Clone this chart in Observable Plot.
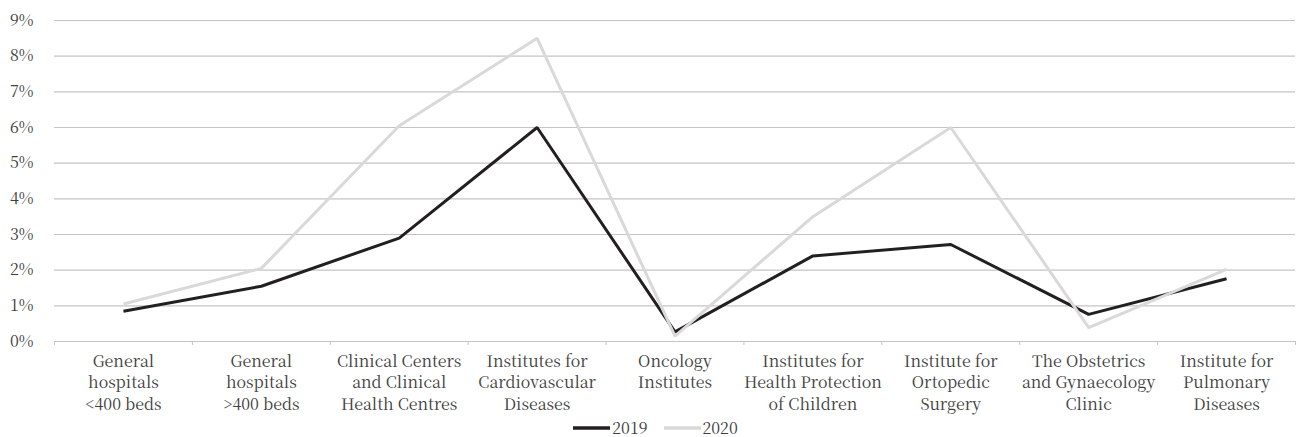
<!DOCTYPE html>
<html>
<head>
<meta charset="utf-8">
<script src="https://cdn.jsdelivr.net/npm/d3@7"></script>
<script src="https://cdn.jsdelivr.net/npm/@observablehq/plot@0.6"></script>
<style>
  html, body { margin: 0; padding: 0; background: #fff; }
  body { width: 1303px; height: 437px; overflow: hidden; font-family: 'Noto Serif CJK SC', 'Liberation Serif', serif; }
  #legend { display: flex; justify-content: center; align-items: center; height: 19px; line-height: 19px; padding-left: 8px; font-size: 16px; color: #404040; }
  #legend .item { display: flex; align-items: center; margin: 0 8px; }
  #legend svg { margin-right: 2px; }
</style>
</head>
<body>
<div id="chart"></div>
<div id="legend"></div>
<script>
const categories = [
  "General hospitals <400 beds",
  "General hospitals >400 beds",
  "Clinical Centers and Clinical Health Centres",
  "Institutes for Cardiovascular Diseases",
  "Oncology Institutes",
  "Institutes for Health Protection of Children",
  "Institute for Ortopedic Surgery",
  "The Obstetrics and Gynaecology Clinic",
  "Institute for Pulmonary Diseases"
];
const categoryLabels = [
  "General\nhospitals\n<400 beds",
  "General\nhospitals\n>400 beds",
  "Clinical Centers\nand Clinical\nHealth Centres",
  "Institutes for\nCardiovascular\nDiseases",
  "Oncology\nInstitutes",
  "Institutes for\nHealth Protection\nof Children",
  "Institute for\nOrtopedic\nSurgery",
  "The Obstetrics\nand Gynaecology\nClinic",
  "Institute for\nPulmonary\nDiseases"
];
const seriesNames = ["2019", "2020"];
const values2019 = [0.85, 1.55, 2.9, 6.0, 0.27, 2.4, 2.72, 0.76, 1.76];
const values2020 = [1.05, 2.05, 6.05, 8.5, 0.15, 3.5, 6.0, 0.39, 2.02];
const seriesColors = ["#231f20", "#d9d9d9"];
const yTicks = [0, 1, 2, 3, 4, 5, 6, 7, 8, 9];

const seriesValues = [values2019, values2020];
const data = seriesNames.flatMap((s, k) =>
  categories.map((c, i) => ({series: s, category: c, index: i + 0.5, value: seriesValues[k][i]}))
);
const centers = categories.map((_, i) => i + 0.5);
const boundaries = d3.range(0, categories.length + 1);
const fontStack = "'Noto Serif CJK SC', 'Liberation Serif', serif";

const chart = Plot.plot({
  width: 1303,
  height: 418,
  marginLeft: 54,
  marginRight: 8,
  marginTop: 20,
  marginBottom: 77,
  style: {fontFamily: fontStack, fontSize: "16px", color: "#404040", background: "#fff", overflow: "visible"},
  x: {domain: [0, categories.length]},
  y: {domain: [0, 9]},
  color: {domain: seriesNames, range: seriesColors},
  marks: [
    Plot.gridY({ticks: yTicks, stroke: "#c4c4c4", strokeOpacity: 1, strokeWidth: 1.2}),
    Plot.axisY({ticks: yTicks, tickSize: 0, tickPadding: 21, tickFormat: d => d + "%", fontSize: 16, fill: "#404040", label: null}),
    Plot.axisX({ticks: boundaries, tickSize: 4, tickFormat: () => "", stroke: "#c4c4c4", label: null}),
    Plot.axisX({ticks: centers, tickSize: 0, tickPadding: 10, tickFormat: d => categoryLabels[Math.floor(d)], lineHeight: 1.34, fontSize: 16, fill: "#404040", label: null}),
    Plot.line(data, {x: "index", y: "value", z: "series", stroke: "series", strokeWidth: 3, strokeLinejoin: "miter", strokeLinecap: "butt"})
  ]
});
document.getElementById("chart").appendChild(chart);

const legend = document.getElementById("legend");
seriesNames.forEach((s, k) => {
  const item = document.createElement("div");
  item.className = "item";
  item.innerHTML = `<svg width="37" height="6"><line x1="0" y1="3" x2="37" y2="3" stroke="${seriesColors[k]}" stroke-width="3.5" stroke-linecap="round"/></svg><span>${s}</span>`;
  legend.appendChild(item);
});
</script>
</body>
</html>
